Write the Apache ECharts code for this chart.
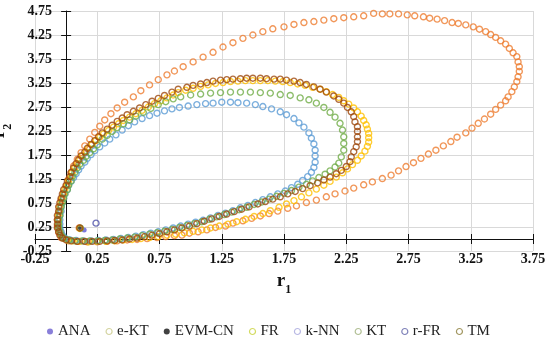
<!DOCTYPE html>
<html>
<head>
<meta charset="utf-8">
<script src="https://cdn.jsdelivr.net/npm/echarts@6/dist/echarts.min.js"></script>
<style>html,body{margin:0;padding:0;background:#fff;}#c{width:550px;height:338px;}</style>
</head>
<body>
<div id="c"></div>
<script>
// ---- data ----
const seriesNames = ['ANA', 'e-KT', 'EVM-CN', 'FR', 'k-NN', 'KT', 'r-FR', 'TM'];
const xTicks = { min: -0.25, max: 3.75, step: 0.5 };
const yTicks = { min: -0.25, max: 4.75, step: 0.5 };

const ana = [[0.145, 0.19]];
const evm = [[0.11, 0.23]];
const rfr = [[0.24, 0.33]];

const ekt = [[0.105,0.23],
[0.02,-0.04],[0.09,-0.05],[0.17,-0.06],[0.25,-0.06],[0.33,-0.05],[0.41,-0.04],[0.49,-0.02],[0.57,-0.01],[0.65,0.01],[0.73,0.03],[0.80,0.05],[0.87,0.07],[0.93,0.08],[0.99,0.12],[1.06,0.15],[1.13,0.19],[1.20,0.24],[1.28,0.27],[1.34,0.33],[1.42,0.38],[1.49,0.43],[1.56,0.48],[1.63,0.53],[1.70,0.58],[1.78,0.64],[1.85,0.69],[1.93,0.76],[2.01,0.81],[2.09,0.88],[2.16,0.94],[2.24,1.00],[2.31,1.06],[2.39,1.13],[2.46,1.19],[2.54,1.26],[2.61,1.33],[2.67,1.42],[2.73,1.51],[2.79,1.59],[2.85,1.68],[2.91,1.77],[2.97,1.85],[3.03,1.94],[3.09,2.03],[3.14,2.12],[3.21,2.21],[3.26,2.31],[3.31,2.41],[3.36,2.50],[3.41,2.60],[3.45,2.70],[3.49,2.79],[3.53,2.88],[3.55,2.96],[3.58,3.07],[3.60,3.17],[3.62,3.28],[3.63,3.38],[3.64,3.49],[3.64,3.59],[3.63,3.69],[3.62,3.80],[3.59,3.88],[3.56,3.97],[3.53,4.06],[3.49,4.13],[3.45,4.20],[3.41,4.26],[3.37,4.32],[3.32,4.37],[3.27,4.42],[3.21,4.46],[3.15,4.49],[3.10,4.51],[3.04,4.55],[2.98,4.58],[2.92,4.60],[2.87,4.63],[2.80,4.65],[2.74,4.67],[2.67,4.69],[2.60,4.69],[2.54,4.69],[2.47,4.70],[2.39,4.65],[2.31,4.63],[2.23,4.61],[2.15,4.59],[2.07,4.56],[1.99,4.53],[1.91,4.51],[1.83,4.47],[1.75,4.42],[1.66,4.38],[1.58,4.32],[1.50,4.25],[1.42,4.18],[1.34,4.09],[1.26,4.00],[1.18,3.89],[1.10,3.79],[1.02,3.69],[0.94,3.59],[0.87,3.50],[0.81,3.42],[0.74,3.32],[0.67,3.21],[0.60,3.09],[0.54,2.96],[0.47,2.85],[0.41,2.73],[0.36,2.61],[0.31,2.48],[0.27,2.35],[0.23,2.22],[0.19,2.08],[0.15,1.94],[0.12,1.80],[0.09,1.66],[0.06,1.52],[0.04,1.38],[0.02,1.24],[0.00,1.10],[-0.02,0.96],[-0.04,0.82],[-0.05,0.68],[-0.06,0.54],[-0.07,0.40],[-0.07,0.27],[-0.06,0.14],[-0.04,0.03]];

const fr = [[0.11,0.22],
[0.90,3.05],[0.96,3.10],[1.02,3.14],[1.08,3.18],[1.14,3.21],[1.20,3.24],[1.26,3.26],[1.32,3.28],[1.38,3.29],[1.44,3.30],[1.50,3.30],[1.56,3.30],[1.62,3.30],[1.68,3.29],[1.74,3.28],[1.80,3.26],[1.86,3.23],[1.92,3.20],[1.98,3.16],[2.04,3.12],[2.09,3.07],[2.14,3.01],[2.19,2.95],[2.23,2.88],[2.27,2.81],[2.31,2.73],[2.34,2.65],[2.37,2.56],[2.39,2.47],[2.41,2.38],[2.42,2.29],[2.43,2.20],[2.43,2.11],[2.43,2.02],[2.42,1.93],[2.40,1.83],[2.37,1.73],[2.34,1.64],[2.30,1.55],[2.26,1.46],[2.22,1.38],[2.17,1.29],[2.12,1.20],[2.07,1.12],[2.01,1.04],[1.95,0.96],[1.89,0.88],[1.83,0.80],[1.77,0.73],[1.71,0.66],[1.64,0.59],[1.58,0.53],[1.51,0.47],[1.44,0.41],[1.37,0.36],[1.30,0.31],[1.23,0.27],[1.16,0.23],[1.09,0.19],[1.02,0.16],[0.95,0.13],[0.88,0.10],[0.81,0.08],[0.74,0.05],[0.67,0.03],[0.60,0.01],[0.53,-0.01],[0.46,-0.02],[0.39,-0.04],[0.32,-0.05],[0.25,-0.05],[0.18,-0.06],[0.11,-0.05],[0.05,-0.04],[0.01,-0.02],[-0.02,0.02],[-0.04,0.08],[-0.05,0.15],[-0.06,0.23],[-0.06,0.31],[-0.06,0.40],[-0.06,0.49],[-0.05,0.58],[-0.05,0.67],[-0.04,0.76],[-0.03,0.85],[-0.02,0.94],[-0.01,1.03],[0.01,1.12],[0.02,1.21],[0.04,1.30],[0.05,1.39],[0.07,1.48],[0.09,1.57],[0.11,1.65],[0.13,1.73],[0.16,1.81],[0.18,1.89],[0.21,1.97],[0.24,2.05],[0.27,2.12],[0.30,2.19],[0.34,2.26],[0.38,2.33],[0.42,2.40],[0.46,2.47],[0.51,2.54],[0.56,2.61],[0.61,2.68],[0.66,2.75],[0.71,2.82],[0.76,2.88],[0.81,2.94],[0.86,3.00]];

const knn = [
[0.91,2.74],[0.98,2.77],[1.05,2.80],[1.12,2.82],[1.18,2.83],[1.25,2.85],[1.32,2.85],[1.38,2.84],[1.45,2.83],[1.52,2.80],[1.58,2.76],[1.65,2.71],[1.72,2.65],[1.77,2.59],[1.83,2.51],[1.87,2.42],[1.91,2.33],[1.95,2.21],[1.97,2.10],[1.99,1.98],[2.00,1.85],[2.00,1.73],[2.00,1.60],[1.99,1.49],[1.97,1.39],[1.94,1.30],[1.90,1.22],[1.86,1.14],[1.81,1.07],[1.76,1.00],[1.70,0.94],[1.64,0.88],[1.58,0.82],[1.52,0.76],[1.46,0.70],[1.40,0.65],[1.34,0.59],[1.28,0.54],[1.22,0.49],[1.16,0.44],[1.10,0.39],[1.04,0.35],[0.98,0.31],[0.92,0.27],[0.86,0.23],[0.80,0.19],[0.74,0.15],[0.68,0.12],[0.62,0.09],[0.56,0.06],[0.50,0.03],[0.44,0.01],[0.38,-0.01],[0.32,-0.02],[0.26,-0.03],[0.20,-0.04],[0.14,-0.04],[0.08,-0.03],[0.03,-0.02],[-0.01,0.02],[-0.03,0.08],[-0.04,0.15],[-0.05,0.23],[-0.05,0.31],[-0.05,0.40],[-0.05,0.49],[-0.04,0.58],[-0.04,0.67],[-0.03,0.76],[-0.02,0.85],[-0.01,0.94],[0.01,1.03],[0.02,1.12],[0.04,1.20],[0.06,1.28],[0.08,1.36],[0.10,1.44],[0.12,1.52],[0.15,1.60],[0.17,1.68],[0.20,1.76],[0.23,1.84],[0.27,1.92],[0.31,2.00],[0.35,2.08],[0.40,2.17],[0.45,2.27],[0.50,2.36],[0.55,2.44],[0.61,2.51],[0.67,2.57],[0.73,2.62],[0.79,2.67],[0.85,2.71]];

const kt = [[0.115,0.225],
[0.92,2.96],[1.00,3.00],[1.08,3.02],[1.16,3.04],[1.24,3.05],[1.32,3.06],[1.40,3.06],[1.48,3.06],[1.56,3.05],[1.64,3.04],[1.72,3.01],[1.80,2.99],[1.88,2.94],[1.95,2.90],[2.01,2.83],[2.07,2.74],[2.12,2.64],[2.16,2.54],[2.20,2.41],[2.22,2.27],[2.23,2.13],[2.23,1.99],[2.23,1.85],[2.21,1.71],[2.19,1.58],[2.16,1.50],[2.12,1.42],[2.08,1.35],[2.03,1.28],[1.98,1.21],[1.93,1.14],[1.87,1.08],[1.81,1.01],[1.75,0.95],[1.69,0.89],[1.63,0.83],[1.57,0.77],[1.51,0.72],[1.45,0.66],[1.39,0.61],[1.33,0.56],[1.27,0.51],[1.21,0.46],[1.15,0.41],[1.09,0.36],[1.03,0.32],[0.97,0.28],[0.91,0.24],[0.85,0.20],[0.79,0.16],[0.73,0.13],[0.67,0.10],[0.61,0.07],[0.55,0.04],[0.49,0.02],[0.43,0.00],[0.37,-0.02],[0.31,-0.03],[0.25,-0.04],[0.19,-0.04],[0.13,-0.04],[0.07,-0.04],[0.02,-0.02],[-0.02,0.02],[-0.04,0.08],[-0.05,0.15],[-0.06,0.23],[-0.06,0.31],[-0.06,0.40],[-0.05,0.49],[-0.05,0.58],[-0.04,0.67],[-0.03,0.76],[-0.02,0.85],[-0.01,0.94],[0.01,1.03],[0.02,1.12],[0.04,1.21],[0.05,1.30],[0.07,1.39],[0.09,1.48],[0.11,1.56],[0.14,1.64],[0.16,1.72],[0.19,1.80],[0.22,1.88],[0.25,1.96],[0.29,2.08],[0.33,2.16],[0.37,2.24],[0.41,2.32],[0.46,2.40],[0.51,2.48],[0.56,2.56],[0.62,2.64],[0.68,2.72],[0.74,2.80],[0.80,2.86],[0.86,2.92]];

const tm = [[0.11,0.23],
[0.90,3.12],[0.97,3.16],[1.02,3.20],[1.08,3.23],[1.13,3.26],[1.18,3.29],[1.24,3.31],[1.29,3.32],[1.34,3.33],[1.40,3.34],[1.45,3.35],[1.50,3.35],[1.56,3.35],[1.61,3.34],[1.67,3.33],[1.72,3.33],[1.77,3.31],[1.83,3.29],[1.88,3.26],[1.93,3.22],[1.99,3.17],[2.04,3.12],[2.09,3.06],[2.15,2.98],[2.19,2.91],[2.23,2.83],[2.26,2.74],[2.29,2.65],[2.31,2.55],[2.32,2.44],[2.34,2.34],[2.34,2.24],[2.34,2.13],[2.34,2.03],[2.33,1.92],[2.31,1.82],[2.29,1.71],[2.28,1.61],[2.25,1.51],[2.21,1.43],[2.17,1.36],[2.12,1.29],[2.07,1.23],[2.02,1.17],[1.96,1.11],[1.90,1.05],[1.84,0.99],[1.78,0.94],[1.72,0.88],[1.66,0.83],[1.60,0.78],[1.54,0.73],[1.47,0.67],[1.41,0.62],[1.35,0.57],[1.29,0.52],[1.23,0.47],[1.17,0.42],[1.11,0.37],[1.05,0.32],[0.99,0.27],[0.93,0.23],[0.87,0.19],[0.81,0.15],[0.75,0.11],[0.69,0.08],[0.63,0.05],[0.57,0.02],[0.51,0.00],[0.45,-0.02],[0.39,-0.03],[0.33,-0.04],[0.27,-0.05],[0.21,-0.05],[0.15,-0.05],[0.09,-0.05],[0.04,-0.04],[0.00,-0.02],[-0.03,0.02],[-0.05,0.08],[-0.06,0.15],[-0.07,0.23],[-0.07,0.31],[-0.07,0.40],[-0.07,0.49],[-0.06,0.58],[-0.06,0.67],[-0.05,0.76],[-0.04,0.85],[-0.03,0.94],[-0.02,1.03],[0.00,1.12],[0.01,1.21],[0.03,1.30],[0.04,1.39],[0.06,1.48],[0.08,1.57],[0.10,1.65],[0.12,1.73],[0.15,1.81],[0.17,1.89],[0.20,1.97],[0.23,2.05],[0.26,2.13],[0.29,2.21],[0.33,2.29],[0.37,2.37],[0.41,2.45],[0.45,2.52],[0.49,2.59],[0.54,2.66],[0.59,2.73],[0.64,2.80],[0.69,2.87],[0.74,2.93],[0.79,2.99],[0.85,3.06]];

// ---- styles ----
const seriesColors = {
  'ANA': '#5b57d6', 'e-KT': '#ED7D31', 'EVM-CN': '#1a1a1a', 'FR': '#FFC000',
  'k-NN': '#5B9BD5', 'KT': '#70AD47', 'r-FR': '#4b4fa8', 'TM': '#9E480E'
};
const legendColors = {
  'ANA': '#6b5fd0', 'e-KT': '#c9c98a', 'EVM-CN': '#111111', 'FR': '#c8d23a',
  'k-NN': '#a8a8dd', 'KT': '#9fb07a', 'r-FR': '#5f63a8', 'TM': '#8b7d3a'
};
const filled = { 'ANA': true, 'EVM-CN': true };
const dataMap = { 'ANA': ana, 'e-KT': ekt, 'EVM-CN': evm, 'FR': fr, 'k-NN': knn, 'KT': kt, 'r-FR': rfr, 'TM': tm };

const SERIF = '"Liberation Serif", "Times New Roman", serif';

const series = seriesNames.map(function (n) {
  const c = seriesColors[n];
  const isFilled = !!filled[n];
  return {
    name: n,
    type: 'scatter',
    xAxisIndex: 0,
    yAxisIndex: 0,
    data: dataMap[n],
    symbol: 'circle',
    symbolSize: n === 'ANA' ? 5 : (n === 'EVM-CN' ? 4 : 6),
    itemStyle: isFilled ? { color: c } : { color: 'rgba(255,255,255,0)', borderColor: c, borderWidth: 1.4 },
    emphasis: { disabled: true },
    silent: true
  };
});

const legendData = seriesNames.map(function (n) {
  const c = legendColors[n];
  return {
    name: n,
    icon: 'circle',
    itemStyle: filled[n] ? { color: c, borderWidth: 0 } : { color: '#ffffff', borderColor: c, borderWidth: 1.2 }
  };
});

const nameRich = {
  a: { fontFamily: SERIF, fontWeight: 'bold', fontSize: 19, color: '#111', lineHeight: 24, verticalAlign: 'top' },
  b: { fontFamily: SERIF, fontWeight: 'bold', fontSize: 12, color: '#111', lineHeight: 12, verticalAlign: 'bottom' }
};

const labelStyle = { fontFamily: SERIF, fontWeight: 'bold', fontSize: 14, color: '#111', showMinLabel: true, showMaxLabel: true };
const tickStyle = { color: '#111', width: 1 };

const chart = echarts.init(document.getElementById('c'), null, { renderer: 'canvas' });
chart.setOption({
  animation: false,
  backgroundColor: '#ffffff',
  textStyle: { fontFamily: SERIF },
  grid: { left: 35, right: 17, top: 11, bottom: 87, containLabel: false, outerBoundsMode: 'none' },
  xAxis: [{
    type: 'value', min: xTicks.min, max: xTicks.max, interval: xTicks.step,
    axisLine: { show: true, onZero: true, onZeroAxisIndex: 0, lineStyle: { color: '#111', width: 1 } },
    axisTick: { show: true, length: 5, lineStyle: tickStyle },
    axisLabel: Object.assign({ margin: 1 }, labelStyle),
    splitLine: { show: true, lineStyle: { color: '#d9d9d9', width: 1 } },
    name: '{a|r}{b|1}', nameLocation: 'middle', nameGap: 21, nameMoveOverlap: false,
    nameTextStyle: { rich: nameRich }
  }, {
    // inner half of the cross tick marks on the r1 axis
    type: 'value', position: 'bottom', min: xTicks.min, max: xTicks.max, interval: xTicks.step,
    axisLine: { show: false, onZero: true, onZeroAxisIndex: 1 },
    axisTick: { show: true, inside: true, length: 5, lineStyle: tickStyle },
    axisLabel: { show: false },
    splitLine: { show: false }
  }],
  yAxis: [{
    type: 'value', min: yTicks.min, max: yTicks.max, interval: yTicks.step,
    axisLine: { show: true, onZero: true, onZeroAxisIndex: 0, lineStyle: { color: '#111', width: 1 } },
    axisTick: { show: true, length: 5, lineStyle: tickStyle },
    axisLabel: { show: false },
    splitLine: { show: true, lineStyle: { color: '#d9d9d9', width: 1 } },
    name: '{a|r}{b|2}', nameLocation: 'middle', nameGap: 21, nameRotate: 90, nameMoveOverlap: false,
    nameTextStyle: { rich: nameRich }
  }, {
    type: 'value', position: 'left', offset: -17,
    min: yTicks.min, max: yTicks.max, interval: yTicks.step,
    axisLine: { show: false, onZero: false },
    axisTick: { show: false },
    axisLabel: Object.assign({ margin: 0 }, labelStyle),
    splitLine: { show: false }
  }, {
    // inner half of the cross tick marks on the r2 axis
    type: 'value', position: 'left', min: yTicks.min, max: yTicks.max, interval: yTicks.step,
    axisLine: { show: false, onZero: true, onZeroAxisIndex: 1 },
    axisTick: { show: true, inside: true, length: 5, lineStyle: tickStyle },
    axisLabel: { show: false },
    splitLine: { show: false }
  }],
  legend: {
    data: legendData,
    top: 319, left: 42,
    itemWidth: 6, itemHeight: 6, itemGap: 15,
    textStyle: { fontFamily: SERIF, fontSize: 15, color: '#222' },
    selectedMode: false
  },
  series: series
});
</script>
</body>
</html>
